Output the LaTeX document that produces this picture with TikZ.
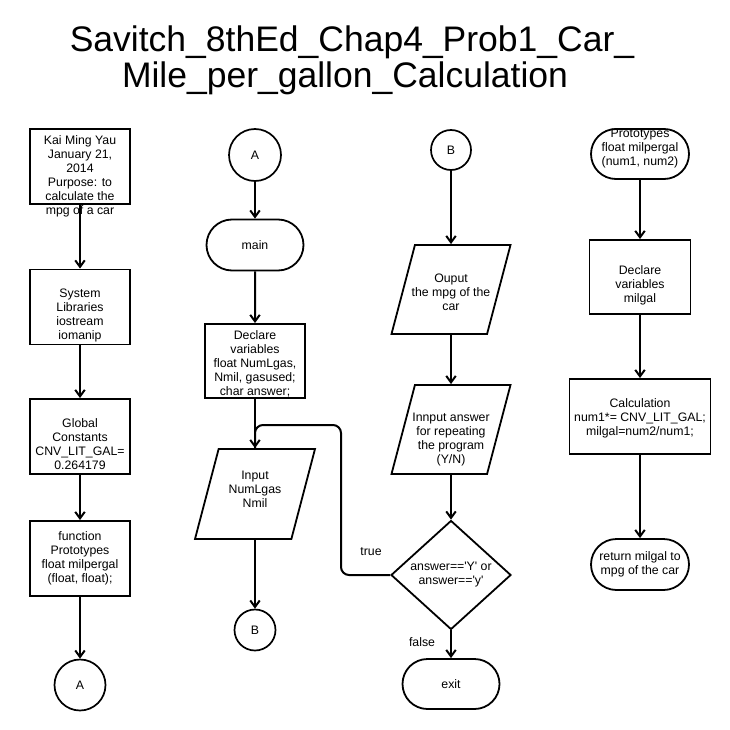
\documentclass[tikz,border=0pt]{standalone}
\usepackage{fontspec}
\setmainfont{Liberation Sans}
\usetikzlibrary{positioning,arrows.meta,shapes.geometric,shapes.misc}

\begin{document}
\begin{tikzpicture}[x=1pt, y=-1pt,
    >={Straight Barb[length=6.5pt,width=9.5pt]},
    every node/.style={font=\fontsize{12.3}{14}\selectfont, align=center, inner sep=0pt},
    line/.style={line width=2pt},
    proc/.style={draw, line width=1.9pt, minimum width=100, minimum height=75},
    term/.style={draw, line width=1.8pt, rounded rectangle, inner sep=2pt, minimum width=101, minimum height=51},
    conn/.style={draw, line width=1.7pt, circle},
    io/.style={draw, line width=1.8pt, trapezium, trapezium left angle=72, trapezium right angle=108,
        trapezium stretches=true, inner sep=2pt, minimum width=120, minimum height=90},
    decide/.style={draw, line width=1.8pt, diamond, minimum width=120, minimum height=109}
]
\useasboundingbox (0,0) rectangle (730,730);

% title
\node[font=\fontsize{35.5}{40}\selectfont, anchor=base] (title1) at (352,52) {Savitch\_8thEd\_Chap4\_Prob1\_Car\_};
\node[font=\fontsize{35.5}{40}\selectfont, anchor=base] (title2) at (345,88) {Mile\_per\_gallon\_Calculation};

% header and declarations
\node[proc] (info) at (80,166.5) {};
\node (infot) at (80,176) {Kai Ming Yau\\January 21,\\2014\\Purpose:  to\\calculate the\\mpg of a car};
\node[proc] (sys) at (80,307) {};
\node (syst) at (80,315) {System\\Libraries\\iostream\\iomanip};
\node[proc] (glob) at (80,436.5) {};
\node (globt) at (80,444) {Global\\Constants\\CNV\_LIT\_GAL=\\0.264179};
\node[proc] (func) at (80,558.5) {function\\Prototypes\\float milpergal\\(float, float);};
\node[conn, minimum size=51] (A1) at (80,685) {A};

% main
\node[conn, minimum size=52] (A2) at (255,155) {A};
\node[term] (main) at (255,245) {main};
\node[proc, minimum height=74] (decl) at (255,361) {};
\node (declt) at (255,364) {Declare\\variables\\float NumLgas,\\Nmil, gasused;\\char answer;};
\node[io] (in) at (255,494) {};
\node (int) at (255,489) {Input\\NumLgas\\Nmil};
\node[conn, minimum size=41] (B2) at (255,630) {B};

% output and repeat
\node[conn, minimum size=40] (B3) at (451,150) {B};
\node[io, minimum width=119, minimum height=89] (out) at (451,289.5) {};
\node (outt) at (451,292) {Ouput\\the mpg of the\\car};
\node[io, minimum width=119, minimum height=89] (ans) at (451,429.5) {};
\node (anst) at (451,440) {Innput answer\\for repeating\\the program\\(Y/N)};
\node[decide] (cond) at (451,575) {answer==\textquotesingle Y\textquotesingle{} or\\answer==\textquotesingle y\textquotesingle};
\node[term, minimum height=50] (exit) at (451,684) {exit};
\node (true) at (371,552) {true};
\node (false) at (422,642) {false};

% function milpergal
\node[term, minimum width=102, minimum height=50] (proto) at (640,154) {};
\node (protot) at (640,149) {Prototypes\\float milpergal\\(num1, num2)};
\node[proc, minimum width=101, minimum height=74] (decl2) at (640,277) {};
\node (decl2t) at (640,285) {Declare\\variables\\milgal};
\node[proc, minimum width=141] (calc) at (640,416.5) {};
\node (calct) at (640,418) {Calculation\\num1*= CNV\_LIT\_GAL;\\milgal=num2/num1;};
\node[term, minimum width=102] (ret) at (640,564.5) {return milgal to\\mpg of the car};

% connectors
\draw[line, ->] (info) -- (sys);
\draw[line, ->] (sys) -- (glob);
\draw[line, ->] (glob) -- (func);
\draw[line, ->] (func) -- (A1);

\draw[line, ->] (A2) -- (main);
\draw[line, ->] (main) -- (decl);
\draw[line, ->] (decl) -- (in);
\draw[line, ->] (in) -- (B2);

\draw[line, ->] (B3) -- (out);
\draw[line, ->] (out) -- (ans);
\draw[line, ->] (ans) -- (cond);
\draw[line, ->] (cond) -- (exit);
\coordinate (loop) at (341,425);
\draw[line, rounded corners=8] (cond.west) -| (loop) -| (in.north);

\draw[line, ->] (proto) -- (decl2);
\draw[line, ->] (decl2) -- (calc);
\draw[line, ->] (calc) -- (ret);
\end{tikzpicture}
\end{document}
